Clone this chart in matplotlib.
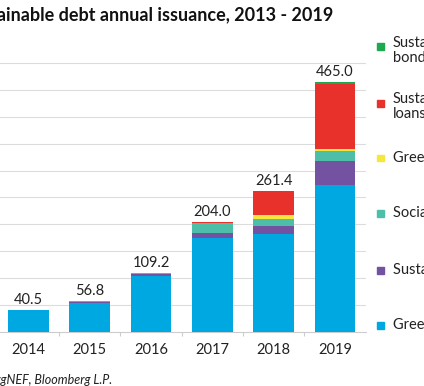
import matplotlib
matplotlib.use('Agg')
import matplotlib.pyplot as plt
import numpy as np
from matplotlib.patches import Rectangle

plt.rcParams['font.family'] = ['Lato', 'DejaVu Sans']

years = ['2013', '2014', '2015', '2016', '2017', '2018', '2019']
green_bonds = [11.0, 39.5, 52.8, 104.0, 173.7, 182.4, 272.6]
sustainability_bonds = [0.5, 1.0, 3.0, 4.0, 11.0, 15.0, 45.4]
social_bonds = [0.2, 0.0, 1.0, 1.2, 17.0, 12.5, 18.0]
green_loans = [0.0, 0.0, 0.0, 0.0, 0.3, 8.0, 5.0]
sl_loans = [0.0, 0.0, 0.0, 0.0, 2.0, 43.5, 121.0]
sl_bonds = [0.0, 0.0, 0.0, 0.0, 0.0, 0.0, 3.0]
totals = ['11.7', '40.5', '56.8', '109.2', '204.0', '261.4', '465.0']

series = [
    ('Green bonds', green_bonds, '#00a8e1'),
    ('Sustainability bonds', sustainability_bonds, '#7452a2'),
    ('Social bonds', social_bonds, '#4dbfa9'),
    ('Green loans', green_loans, '#f6e73d'),
    ('Sustainability-linked\nloans', sl_loans, '#e8312a'),
    ('Sustainability-linked\nbonds', sl_bonds, '#20a84f'),
]

W, H = 424, 386
fig = plt.figure(figsize=(W / 100, H / 100), dpi=100)
ax = fig.add_axes([-63.7 / W, 1 - 331.7 / H, 429.4 / W, 269.5 / H])

x = np.arange(len(years))
bottom = np.zeros(len(years))
for name, vals, col in series:
    ax.bar(x, vals, width=0.66, bottom=bottom, color=col, zorder=3)
    bottom += np.array(vals)

for xi, top, lab in zip(x, bottom, totals):
    ax.text(xi, top + 6, lab, ha='center', va='bottom', fontsize=10.5, color='#222222')

ax.set_xlim(-0.5, len(years) - 0.5)
ax.set_ylim(0, 502)
ax.set_yticks(np.arange(50, 501, 50))
ax.yaxis.grid(True, color='#dcdcdc', linewidth=0.8, zorder=0)
ax.tick_params(axis='y', length=0, labelleft=False)
ax.set_xticks(x)
ax.set_xticklabels(years, fontsize=10.5, color='#222222')
ax.tick_params(axis='x', which='major', length=0, pad=8)
ax.set_xticks(x[:-1] + 0.5, minor=True)
ax.tick_params(axis='x', which='minor', length=3, color='#cccccc', width=0.8)
for s in ['top', 'right', 'left']:
    ax.spines[s].set_visible(False)
ax.spines['bottom'].set_color('#cccccc')
ax.spines['bottom'].set_linewidth(0.8)

fig.text(333 / W, 1 - 15 / H, 'Sustainable debt annual issuance, 2013 - 2019',
         ha='right', va='center', fontsize=13, fontweight='bold', color='#111111')
fig.text(112 / W, 1 - 380 / H, 'Source: BloombergNEF, Bloomberg L.P.',
         ha='right', va='center', fontsize=9, style='italic', color='#222222')

# legend, top to bottom
marker_y = [46.7, 103, 158, 213, 270, 325]
for (name, vals, col), my in zip(series[::-1], marker_y):
    fig.patches.append(Rectangle((377 / W, 1 - (my + 3.5) / H), 7 / W, 7 / H,
                                 transform=fig.transFigure, color=col))
    ty = my + 3.5 if '\n' in name else my
    fig.text(393 / W, 1 - ty / H, name, ha='left', va='center', fontsize=10.5,
             color='#222222', linespacing=1.1)

fig.savefig('out.png', dpi=100)
